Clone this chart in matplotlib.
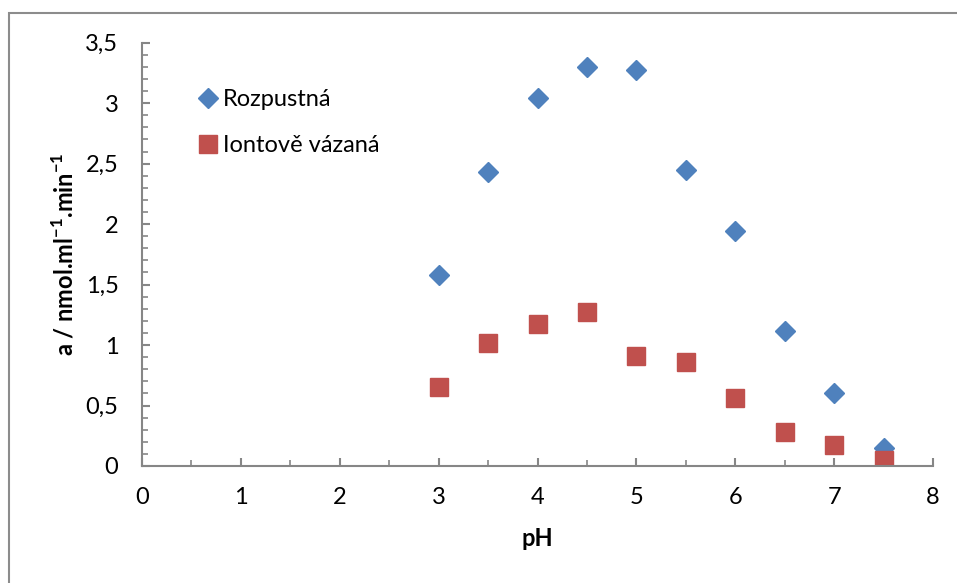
import matplotlib
matplotlib.use('Agg')
import matplotlib.pyplot as plt
from matplotlib.ticker import MultipleLocator, FuncFormatter
from matplotlib.patches import Rectangle

# activity vs. pH for the two enzyme forms
ph = [3, 3.5, 4, 4.5, 5, 5.5, 6, 6.5, 7, 7.5]
rozpustna = [1.58, 2.43, 3.04, 3.30, 3.27, 2.45, 1.94, 1.12, 0.60, 0.15]
iontove = [0.65, 1.02, 1.17, 1.27, 0.91, 0.86, 0.56, 0.28, 0.17, 0.05]

plt.rcParams['font.family'] = ['Lato', 'DejaVu Sans']
plt.rcParams['mathtext.fontset'] = 'custom'
plt.rcParams['mathtext.rm'] = 'Lato'
plt.rcParams['mathtext.bf'] = 'Lato:bold'

axis_grey = '#868686'
fs = 17

fig = plt.figure(figsize=(9.57, 5.83), dpi=100)
ax = fig.add_axes([0.1484, 0.2007, 0.8266, 0.7261])

ax.plot(ph, rozpustna, linestyle='none', marker='D', markersize=10.5,
        color='#4F81BD', label='Rozpustná')
ax.plot(ph, iontove, linestyle='none', marker='s', markersize=13.5,
        color='#C0504D', label='Iontově vázaná')

ax.set_xlim(0, 8)
ax.set_ylim(0, 3.5)
ax.xaxis.set_major_locator(MultipleLocator(1))
ax.xaxis.set_minor_locator(MultipleLocator(0.5))
ax.yaxis.set_major_locator(MultipleLocator(0.5))
ax.yaxis.set_minor_locator(MultipleLocator(0.1))
ax.yaxis.set_major_formatter(FuncFormatter(lambda v, p: f'{v:g}'.replace('.', ',')))

for side in ('top', 'right'):
    ax.spines[side].set_visible(False)
for side in ('left', 'bottom'):
    ax.spines[side].set_color(axis_grey)
    ax.spines[side].set_linewidth(1.5)

ax.tick_params(which='major', direction='in', length=6, width=1.5,
               color=axis_grey, labelsize=fs, pad=15)
ax.tick_params(which='minor', direction='in', length=4, width=1.2,
               color=axis_grey)
ax.tick_params(axis='y', which='major', pad=17)

ax.set_xlabel('pH', fontsize=fs, fontweight='bold', labelpad=14)
ax.set_ylabel(r'a / nmol.ml$^{\mathbf{-1}}$.min$^{\mathbf{-1}}$',
              fontsize=fs, fontweight='bold', labelpad=6)

leg = ax.legend(loc='upper left', bbox_to_anchor=(0.054, 0.913), frameon=False,
                fontsize=fs, handletextpad=0.0, labelspacing=1.07,
                handlelength=1.2, borderaxespad=0)

# chart frame (cut off at the right and bottom)
fig.add_artist(Rectangle((9 / 957, -0.1), 1.2, 1 - 13 / 583 + 0.1,
                         transform=fig.transFigure, fill=False,
                         edgecolor='#8c8c8c', linewidth=1.5))

fig.savefig('out.png', dpi=100)
